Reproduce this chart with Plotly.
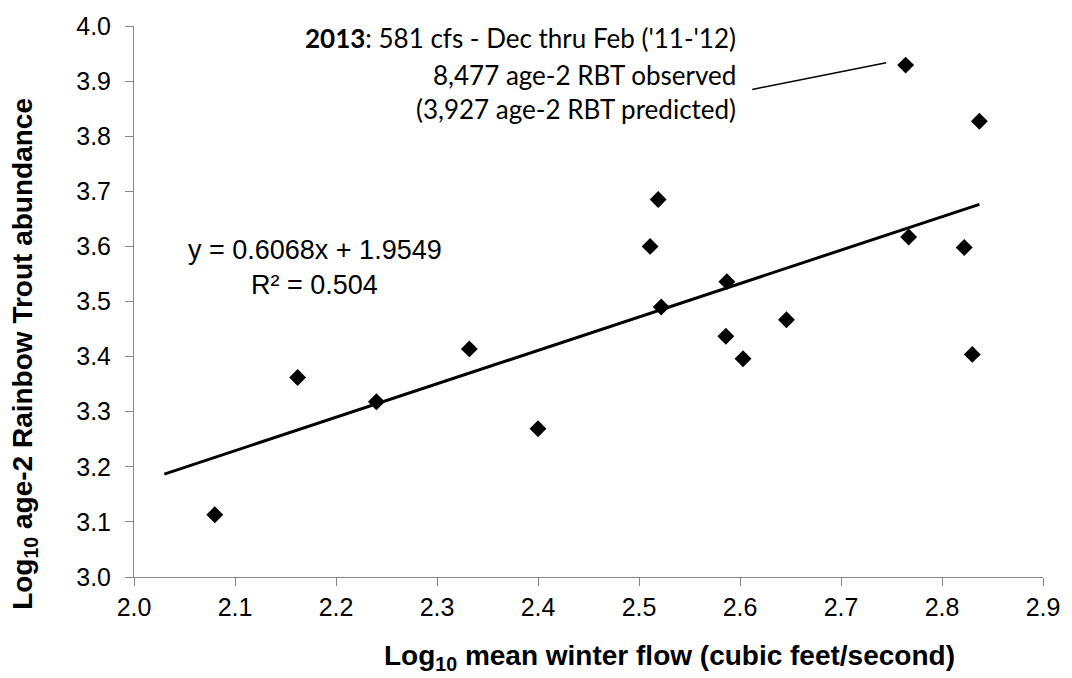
import plotly.graph_objects as go

# Data: log10 mean winter flow vs log10 age-2 rainbow trout abundance
flow_log = [2.080, 2.162, 2.240, 2.332, 2.400, 2.511, 2.519, 2.522, 2.587, 2.586,
            2.603, 2.646, 2.764, 2.767, 2.822, 2.830, 2.837]
abund_log = [3.113, 3.362, 3.318, 3.414, 3.269, 3.600, 3.685, 3.490, 3.536, 3.437,
             3.396, 3.467, 3.929, 3.617, 3.598, 3.404, 3.827]

slope = 0.6068
intercept = 1.9549
trend_x = [2.03, 2.837]
trend_y = [slope * v + intercept for v in trend_x]

x_ticks = [2.0, 2.1, 2.2, 2.3, 2.4, 2.5, 2.6, 2.7, 2.8, 2.9]
y_ticks = [3.0, 3.1, 3.2, 3.3, 3.4, 3.5, 3.6, 3.7, 3.8, 3.9, 4.0]

# plot-area geometry (pixels)
L, R, T, B = 134, 22, 21, 101
W, H = 1072, 678
pw, ph = W - L - R, H - T - B

def px(xp):
    return (xp - L) / pw

def py(yp):
    return (H - B - yp) / ph

fig = go.Figure()
fig.add_trace(go.Scatter(x=trend_x, y=trend_y, mode="lines",
                         line=dict(color="black", width=3), showlegend=False,
                         hoverinfo="skip"))
fig.add_trace(go.Scatter(x=flow_log, y=abund_log, mode="markers",
                         marker=dict(symbol="diamond", size=13, color="black"),
                         showlegend=False))

axis_common = dict(showgrid=False, zeroline=False, showline=True, linecolor="#868686",
                   linewidth=1, ticks="outside", ticklen=8, tickcolor="#868686",
                   tickfont=dict(family="Liberation Sans, Arial", size=25, color="black"),
                   mirror=False)

fig.update_xaxes(range=[2.0, 2.9], tickvals=x_ticks,
                 ticktext=[f"{v:.1f}" for v in x_ticks], ticklabelstandoff=0,
                 **axis_common)
fig.update_yaxes(range=[3.0, 4.0], tickvals=y_ticks,
                 ticktext=[f"{v:.1f}" for v in y_ticks], ticklabelstandoff=9,
                 **axis_common)

ann_font = dict(family="Lato, Open Sans, sans-serif", size=26, color="black")
lines = ["<b>2013</b>: 581 cfs - Dec thru Feb ('11-'12)",
         "8,477 age-2 RBT observed",
         "(3,927 age-2 RBT predicted)"]
ys = [33, 70, 105]
for txt, yy in zip(lines, ys):
    fig.add_annotation(text=txt, xref="paper", yref="paper", x=px(743), y=py(yy),
                       xanchor="right", yanchor="middle", showarrow=False,
                       align="right", font=ann_font)

eq_font = dict(family="Liberation Sans, Arial", size=27, color="black")
fig.add_annotation(text="y = 0.6068x + 1.9549", xref="paper", yref="paper",
                   x=px(316), y=py(247), xanchor="center", yanchor="middle",
                   showarrow=False, font=eq_font)
fig.add_annotation(text="R² = 0.504", xref="paper", yref="paper",
                   x=px(316), y=py(282), xanchor="center", yanchor="middle",
                   showarrow=False, font=eq_font)

title_font = dict(family="Liberation Sans, Arial", size=28, color="black")
fig.add_annotation(text="<b>Log<sub>10</sub> mean winter flow (cubic feet/second)</b>",
                   xref="paper", yref="paper", x=px(674), y=py(658),
                   xanchor="center", yanchor="middle", showarrow=False, font=title_font)
fig.add_annotation(text="<b>Log<sub>10</sub> age-2 Rainbow Trout abundance</b>",
                   xref="paper", yref="paper", x=px(23), y=py(352), textangle=-90,
                   xanchor="center", yanchor="middle", showarrow=False, font=title_font)

# leader line from annotation to 2013 point
fig.add_shape(type="line", xref="paper", yref="paper",
              x0=px(757), y0=py(85), x1=px(892), y1=py(58),
              line=dict(color="black", width=1.5))

fig.update_layout(width=W, height=H, margin=dict(l=L, r=R, t=T, b=B),
                  plot_bgcolor="white", paper_bgcolor="white")

fig.write_html("out.html", config={"displayModeBar": False},
               post_script="document.body.style.margin='0';"
                           "document.body.style.overflow='hidden';")
